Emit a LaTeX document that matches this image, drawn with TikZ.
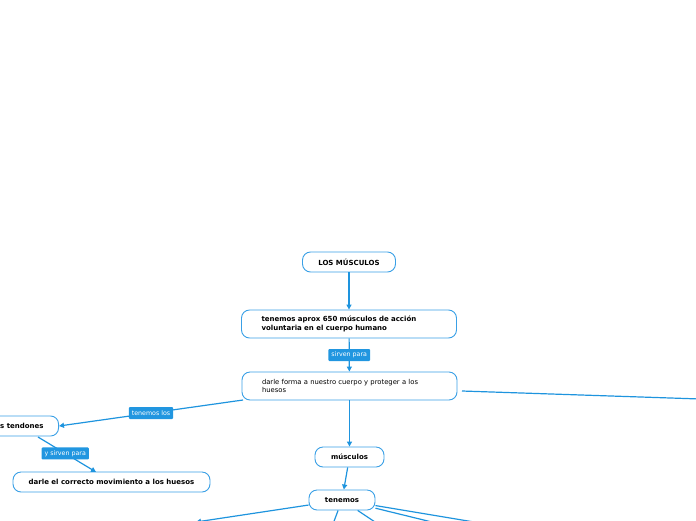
\documentclass[tikz,border=0pt]{standalone}
\usepackage{fontspec}
\setmainfont{DejaVu Sans}
\usetikzlibrary{arrows.meta}
\definecolor{boxblue}{HTML}{3AA0E6}
\definecolor{lineblue}{HTML}{1E94DE}
\definecolor{lblblue}{HTML}{2196E0}
\tikzset{
  box/.style={draw=boxblue, line width=0.9pt, rounded corners=8pt, fill=white,
    font=\fontsize{7}{8.5}\selectfont\bfseries, minimum height=20pt, inner sep=0pt},
  wbox/.style={box, minimum height=28pt, inner xsep=20pt, align=left},
  lbl/.style={fill=lblblue, text=white, font=\fontsize{6.3}{7}\selectfont,
    rounded corners=1pt, inner xsep=3pt, inner ysep=0pt, minimum height=12pt},
  conn/.style={draw=lineblue, line width=1.2pt, -{Triangle[length=5pt,width=5pt]}},
  plain/.style={draw=lineblue, line width=1.2pt}
}
\begin{document}
\begin{tikzpicture}[x=1pt,y=-1pt]
\useasboundingbox (0,0) rectangle (696,520);
\node[box, minimum width=93pt] (lm) at (349,262) {LOS MÚSCULOS};
\node[wbox, text width=175pt] (ta) at (349,324) {tenemos aprox 650 músculos de acción\\voluntaria en el cuerpo humano};
\node[wbox, text width=175pt, font=\fontsize{6.8}{8.5}\selectfont] (df) at (349.5,386) {darle forma a nuestro cuerpo y proteger a los\\huesos};
\node[box, anchor=east] (td) at (59,426) {\hspace*{12pt}los tendones\hspace*{15pt}};
\node[box, minimum width=197pt] (dc) at (111.5,482) {darle el correcto movimiento a los huesos};
\node[box, minimum width=69pt] (mu) at (349.5,457) {músculos};
\node[box, minimum width=66pt] (te) at (342,500) {tenemos};
\coordinate (r1) at (760,401);
\coordinate (b1) at (196,522);
\coordinate (b2) at (333,524);
\coordinate (b3) at (378,524);
\coordinate (b4) at (480,523);
\coordinate (b5) at (440,524);
\coordinate (dfa) at (243,400);
\coordinate (dfe) at (462,391);
\coordinate (tda) at (38,437);
\coordinate (dct) at (96,472);
\draw[conn] (lm) -- (ta);
\draw[conn] (ta) -- node[lbl] (l1) {sirven para} (df);
\draw[conn] (dfa) -- node[lbl, pos=0.5] (l2) {tenemos los} (td.east);
\draw[conn] (tda) -- node[lbl, pos=0.47] (l3) {y sirven para} (dct);
\draw[plain] (dfe) -- (r1);
\draw[conn] (df) -- (mu);
\draw[conn] (mu) -- (te);
\draw[conn] (te) -- (b1);
\draw[plain] (te) -- (b2);
\draw[plain] (te) -- (b3);
\draw[plain] (te) -- (b4);
\draw[plain] (te) -- (b5);
\end{tikzpicture}
\end{document}
